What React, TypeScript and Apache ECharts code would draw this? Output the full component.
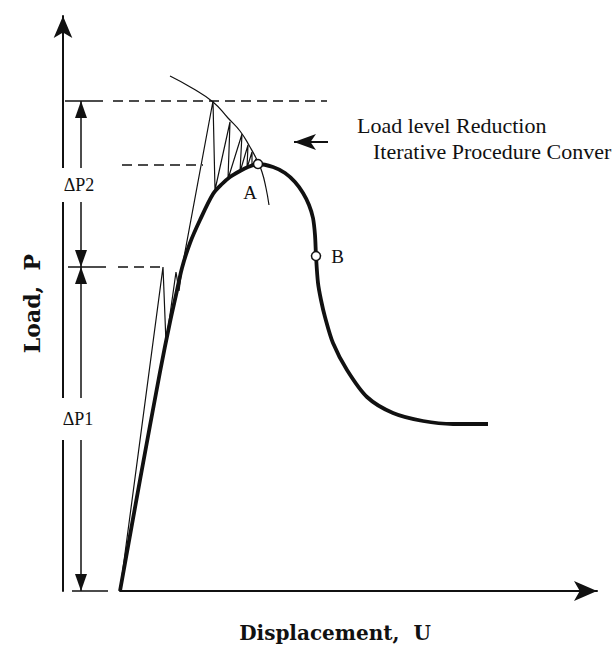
import React, { useEffect, useRef } from "react";
import * as echarts from "echarts";

// Drawing units: U = displacement, P = load
const U_MAX = 477;
const P_MAX = 575;

const P1 = 324; // first load increment level (ΔP1)
const P2 = 490; // second, overshooting load level (ΔP1 + ΔP2)
const P_A = 426; // reduced load level that converges at A

const equilibriumU = [0, 20, 40, 50, 56, 62, 70, 80, 93, 102, 110, 120, 128, 138, 153, 165, 175, 183, 189, 193, 195, 196, 198, 201, 205, 213, 227, 247, 273, 303, 333, 368];
const equilibriumP = [0, 111, 219, 269, 296, 323, 348, 371, 397, 407, 414, 420, 424, 427, 424, 418, 409, 398, 386, 373, 356, 335, 308, 291, 274, 248, 221, 194, 178, 170, 167, 167];

const arcU = [50, 72, 93, 108, 120, 130, 137, 142, 146, 149];
const arcP = [515, 503, 489, 473, 460, 444, 431, 419, 403, 386];

const iterU = [0, 43, 46, 56, 59, 62, 93, 95, 110, 108, 122, 120, 128, 127, 132, 132, 136, 138];
const iterP = [0, 324, 248, 319, 300, 323, 490, 401, 469, 412, 457, 419, 446, 423, 439, 425, 432, 427];

const pointA = [138, 427];
const pointB = [196, 335];

const zip = (xs: number[], ys: number[]) => xs.map((x, i) => [x, ys[i]]);

const SERIF = '"Liberation Serif", "Times New Roman", serif';
const TITLE_FONT = '"DejaVu Serif", "Liberation Serif", serif';
const INK = "#111";

export default function App() {
  const ref = useRef<HTMLDivElement>(null);

  useEffect(() => {
    if (!ref.current) return;
    const chart = echarts.init(ref.current, undefined, { renderer: "svg" });

    const thin = { color: INK, width: 1.2 };

    chart.setOption({
      animation: false,
      backgroundColor: "#ffffff",
      grid: { left: 120, right: 17, top: 16, bottom: 59, containLabel: false },
      xAxis: {
        type: "value",
        min: 0,
        max: U_MAX,
        name: "Displacement,  U",
        nameLocation: "middle",
        nameGap: 32,
        nameTextStyle: { fontFamily: TITLE_FONT, fontWeight: "bold", fontSize: 20, color: INK, padding: [0, 47, 0, 0] },
        axisLine: { show: true, onZero: false, symbol: ["none", "arrow"], symbolSize: [15, 23], lineStyle: { color: INK, width: 2 } },
        axisTick: { show: false },
        axisLabel: { show: false },
        splitLine: { show: false },
      },
      yAxis: {
        type: "value",
        min: 0,
        max: P_MAX,
        offset: 57,
        name: "Load,  P",
        nameLocation: "middle",
        nameGap: 20,
        nameTextStyle: { fontFamily: TITLE_FONT, fontWeight: "bold", fontSize: 22, color: INK },
        axisLine: { show: true, onZero: false, symbol: ["none", "arrow"], symbolSize: [14, 22], lineStyle: { color: INK, width: 2 } },
        axisTick: { show: false },
        axisLabel: { show: false },
        splitLine: { show: false },
      },
      series: [
        {
          name: "equilibrium path",
          type: "line",
          data: zip(equilibriumU, equilibriumP),
          smooth: 0.3,
          symbol: "none",
          lineStyle: { color: INK, width: 3.8 },
          z: 5,
        },
        {
          name: "constraint arc",
          type: "line",
          data: zip(arcU, arcP),
          smooth: 0.5,
          symbol: "none",
          lineStyle: thin,
          markLine: {
            silent: true,
            symbol: ["none", "arrow"],
            symbolSize: [12, 22],
            label: { show: false },
            lineStyle: { color: INK, width: 2, type: "solid" },
            data: [[{ coord: [208, 449] }, { coord: [174, 449] }]],
          },
        },
        {
          name: "iterations",
          type: "line",
          data: zip(iterU, iterP),
          symbol: "none",
          lineStyle: thin,
        },
        {
          type: "scatter",
          silent: true,
          symbol: "circle",
          symbolSize: 9,
          itemStyle: { color: "#ffffff", borderColor: INK, borderWidth: 1.5, opacity: 1 },
          z: 10,
          label: { show: true, fontFamily: SERIF, fontSize: 19, color: INK },
          data: [
            { value: pointA, label: { formatter: "A", position: "bottom", offset: [-8, 9] } },
            { value: pointB, label: { formatter: "B", position: "right", offset: [5, 0] } },
          ],
        },
      ],
    });

    // Annotation layer placed through the chart's own scales
    const px = (u: number, p: number) => chart.convertToPixel({ gridIndex: 0 }, [u, p]) as number[];
    const yP2 = px(0, P2)[1];
    const yP1 = px(0, P1)[1];
    const yPA = px(0, P_A)[1];
    const y0 = px(0, 0)[1];
    const x0 = px(0, 0)[0];
    const xA = px(equilibriumU[7] + 3, P_A)[0];
    const xStep1 = px(iterU[1], P1)[0];
    const xDim = 81;

    const line = (x1: number, y1: number, x2: number, y2: number, style: any) => ({
      type: "line",
      z: 50,
      silent: true,
      shape: { x1, y1, x2, y2 },
      style: { stroke: INK, lineWidth: 1.5, ...style },
    });
    const head = (x: number, y: number, up: boolean) => ({
      type: "polygon",
      z: 50,
      silent: true,
      shape: {
        points: up
          ? [[x, y], [x + 6, y + 17], [x - 6, y + 17]]
          : [[x, y], [x + 6, y - 17], [x - 6, y - 17]],
      },
      style: { fill: INK },
    });
    const dash = { lineDash: [10, 6], lineWidth: 1.4 };

    chart.setOption({
      graphic: [
        line(65, yP2, 103, yP2, {}),
        line(68, yP1, 106, yP1, {}),
        line(72, y0, 108, y0, {}),
        line(x0 - 7, yP2, x0 + 207, yP2, dash),
        line(x0 + 2, yPA, xA, yPA, dash),
        line(x0 - 2, yP1, xStep1, yP1, dash),
        line(xDim, yP2, xDim, y0, {}),
        head(xDim, yP2, true),
        head(xDim, yP1, false),
        head(xDim, yP1, true),
        head(xDim, y0, false),
        {
          type: "text",
          z: 100,
          x: 79,
          y: 185,
          style: { text: "ΔP2", fontFamily: SERIF, fontSize: 18, fill: INK, align: "center", verticalAlign: "middle", backgroundColor: "#ffffff", padding: [8, 2] },
        },
        {
          type: "text",
          z: 100,
          x: 78,
          y: 419,
          style: { text: "ΔP1", fontFamily: SERIF, fontSize: 18, fill: INK, align: "center", verticalAlign: "middle", backgroundColor: "#ffffff", padding: [12, 2] },
        },
        {
          type: "text",
          z: 100,
          x: 357,
          y: 125,
          style: { text: "Load level Reduction", fontFamily: SERIF, fontSize: 22, fill: INK, align: "left", verticalAlign: "middle" },
        },
        {
          type: "text",
          z: 100,
          x: 373,
          y: 151,
          style: { text: "Iterative Procedure Conver", fontFamily: SERIF, fontSize: 22, fill: INK, align: "left", verticalAlign: "middle" },
        },
      ],
    });

    return () => chart.dispose();
  }, []);

  return (
    <div
      ref={ref}
      style={{ position: "fixed", left: 0, top: 0, width: 614, height: 650, background: "#ffffff" }}
    />
  );
}
